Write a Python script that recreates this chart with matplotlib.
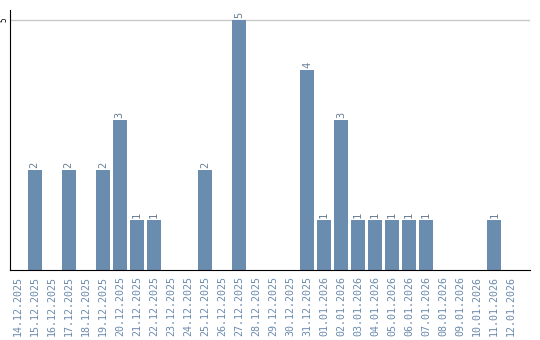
import matplotlib
matplotlib.use("Agg")
import matplotlib.pyplot as plt
import numpy as np

dates = ["14.12.2025", "15.12.2025", "16.12.2025", "17.12.2025", "18.12.2025",
         "19.12.2025", "20.12.2025", "21.12.2025", "22.12.2025", "23.12.2025",
         "24.12.2025", "25.12.2025", "26.12.2025", "27.12.2025", "28.12.2025",
         "29.12.2025", "30.12.2025", "31.12.2025", "01.01.2026", "02.01.2026",
         "03.01.2026", "04.01.2026", "05.01.2026", "06.01.2026", "07.01.2026",
         "08.01.2026", "09.01.2026", "10.01.2026", "11.01.2026", "12.01.2026"]
counts = [0, 2, 0, 2, 0, 2, 3, 1, 1, 0, 0, 2, 0, 5, 0,
          0, 0, 4, 1, 3, 1, 1, 1, 1, 1, 0, 0, 0, 1, 0]

bar_color = "#6a8caf"
text_color = "#6a8aad"

fig = plt.figure(figsize=(5.4, 3.4), dpi=100)
ax = fig.add_axes([10 / 540, 70 / 340, 520 / 540, 260 / 340])

x = np.arange(len(dates))
ax.bar(x, counts, width=0.82, color=bar_color, zorder=2)

for xi, c in zip(x, counts):
    if c > 0:
        ax.text(xi, c + 0.04, str(c), rotation=90, ha="center", va="bottom",
                fontsize=7.5, color="#6a7f96", family="DejaVu Sans Mono")

# slots are ~17px wide, leaving empty space at the right end
ax.set_xlim(-0.45, 30.1)
ax.set_ylim(0, 5.2)
ax.set_yticks([5])
ax.set_yticklabels(["5"], rotation=90, va="center", ha="center", fontsize=5.5,
                   family="DejaVu Sans Mono")
ax.tick_params(axis="y", length=0, pad=4)
ax.axhline(5, color="#c8c8c8", lw=1, zorder=1)

ax.set_xticks(x)
ax.set_xticklabels(dates, rotation=90, fontsize=7.2, color=text_color,
                   family="DejaVu Sans Mono")
ax.tick_params(axis="x", length=0, pad=4)

for s in ["top", "right"]:
    ax.spines[s].set_visible(False)
ax.spines["left"].set_color("black")
ax.spines["bottom"].set_color("black")

fig.savefig("out.png", dpi=100)
